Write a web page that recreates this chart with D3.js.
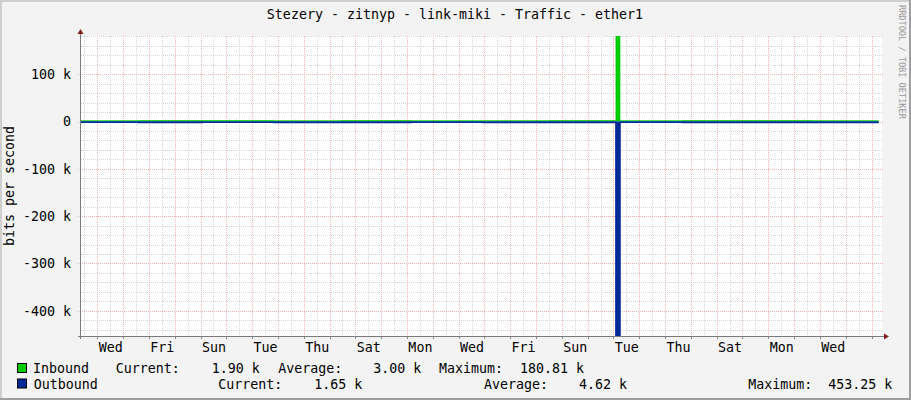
<!DOCTYPE html>
<html>
<head>
<meta charset="utf-8">
<script src="https://cdn.jsdelivr.net/npm/d3@7"></script>
<style>
  body { margin: 0; background: #f3f3f3; }
  text { font-family: "DejaVu Sans Mono", monospace; }
</style>
</head>
<body>
<div id="graph"></div>
<script>
// Data (bits per second, sample times in UTC)
var sampleTimes = [
  "2021-06-01T08:50Z", "2021-06-03T14:00Z", "2021-06-06T02:00Z", "2021-06-08T20:00Z",
  "2021-06-11T10:00Z", "2021-06-14T04:00Z", "2021-06-16T22:00Z", "2021-06-19T12:00Z",
  "2021-06-22T02:20Z", "2021-06-22T06:05Z", "2021-06-24T16:00Z", "2021-06-27T06:00Z",
  "2021-06-29T18:00Z", "2021-07-02T06:40Z"
];
var inboundBits = [1850, 2050, 1960, 1780, 2120, 1890, 1940, 2010, 180810, 1870, 1990, 2080, 1900, 1900];
var outboundBits = [1620, 1710, 1580, 1690, 1750, 1600, 1640, 1720, 453250, 1590, 1680, 1700, 1650, 1650];

var seriesNames = ["Inbound", "Outbound"];
var averageLabels = ["3.00 k", "4.62 k"];
var yTickValues = [100000, 0, -100000, -200000, -300000, -400000];

var graphTitle = "Stezery - zitnyp - link-miki - Traffic - ether1";
var yTitle = "bits per second";
var watermark = "RRDTOOL / TOBI OETIKER";

// Chart setup
var svgWidth = 911;
var svgHeight = 400;
var plot = { left: 81, right: 881, top: 36, bottom: 336 };

var inColor = "#00cc00";
var outColor = "#002a97";
var gridMinor = "#d6d6d6";
var gridMajor = "#f4b0b0";

var svg = d3.select("#graph")
    .append("svg")
    .attr("width", svgWidth)
    .attr("height", svgHeight);

// background + shaded frame
svg.append("rect").attr("width", svgWidth).attr("height", svgHeight).attr("fill", "#f3f3f3");
svg.append("path").attr("d", "M0,0H911V2H2V400H0Z").attr("fill", "#cfcfcf");
svg.append("path").attr("d", "M911,0V400H0V398H909V0Z").attr("fill", "#9e9e9e");

var data = sampleTimes.map(function(t, i) {
    return { time: new Date(t), inb: inboundBits[i], outb: outboundBits[i] };
});

// Scales
var start = new Date("2021-06-01T08:50Z");
var end = new Date("2021-07-02T08:50Z");
var xScale = d3.scaleUtc()
    .domain([start, end])
    .range([plot.left, plot.right]);

var yScale = d3.scaleLinear()
    .domain([-453250, 180810])
    .range([plot.bottom, plot.top]);

// canvas
svg.append("rect")
    .attr("x", plot.left)
    .attr("y", plot.top)
    .attr("width", plot.right - plot.left + 1)
    .attr("height", plot.bottom - plot.top)
    .attr("fill", "#ffffff");

var grid = svg.append("g").attr("stroke-dasharray", "1,1").attr("stroke-width", 1);

// minor vertical grid every 12 hours, major every midnight
var halfDays = d3.utcHour.every(12).range(start, end).filter(function(d) { return d.getUTCHours() === 12; });
var days = d3.utcDay.range(start, end);

grid.selectAll(".vminor")
    .data(halfDays)
    .enter()
    .append("line")
    .attr("x1", d => Math.round(xScale(d)) + 0.5)
    .attr("x2", d => Math.round(xScale(d)) + 0.5)
    .attr("y1", plot.top)
    .attr("y2", plot.bottom)
    .attr("stroke", gridMinor);

// horizontal minor grid every 20 k
var yMinor = d3.range(-440000, 180001, 20000).filter(function(v) { return v % 100000 !== 0; });
grid.selectAll(".hminor")
    .data(yMinor)
    .enter()
    .append("line")
    .attr("x1", plot.left)
    .attr("x2", plot.right + 1)
    .attr("y1", d => Math.round(yScale(d)) + 0.5)
    .attr("y2", d => Math.round(yScale(d)) + 0.5)
    .attr("stroke", gridMinor);

grid.selectAll(".vmajor")
    .data(days)
    .enter()
    .append("line")
    .attr("x1", d => Math.round(xScale(d)) + 0.5)
    .attr("x2", d => Math.round(xScale(d)) + 0.5)
    .attr("y1", plot.top)
    .attr("y2", plot.bottom)
    .attr("stroke", gridMajor);

grid.selectAll(".hmajor")
    .data(yTickValues)
    .enter()
    .append("line")
    .attr("x1", plot.left - 3)
    .attr("x2", plot.right + 2)
    .attr("y1", d => Math.round(yScale(d)) + 0.5)
    .attr("y2", d => Math.round(yScale(d)) + 0.5)
    .attr("stroke", gridMajor);

// ticks under the x axis at each midnight
svg.selectAll(".xtick")
    .data(days)
    .enter()
    .append("line")
    .attr("x1", d => Math.round(xScale(d)) + 0.5)
    .attr("x2", d => Math.round(xScale(d)) + 0.5)
    .attr("y1", plot.bottom)
    .attr("y2", plot.bottom + 3)
    .attr("stroke", "#8a8a8a");

// Traffic areas
svg.append("clipPath").attr("id", "clip")
    .append("rect")
    .attr("x", plot.left)
    .attr("y", plot.top)
    .attr("width", plot.right - plot.left + 1)
    .attr("height", plot.bottom - plot.top);

var chartGroup = svg.append("g").attr("clip-path", "url(#clip)");

var inArea = d3.area()
    .curve(d3.curveStepAfter)
    .x(d => xScale(d.time))
    .y0(yScale(0))
    .y1(d => yScale(d.inb));

var outArea = d3.area()
    .curve(d3.curveStepAfter)
    .x(d => xScale(d.time))
    .y0(yScale(0))
    .y1(d => yScale(-d.outb));

// outline of each value edge so the near-zero traffic stays visible
var inLine = d3.line()
    .curve(d3.curveStepAfter)
    .x(d => xScale(d.time))
    .y(d => yScale(d.inb));

var outLine = d3.line()
    .curve(d3.curveStepAfter)
    .x(d => xScale(d.time))
    .y(d => yScale(-d.outb));

chartGroup.append("path").datum(data).attr("d", inArea).attr("fill", inColor);
chartGroup.append("path").datum(data).attr("d", inLine)
    .attr("fill", "none").attr("stroke", inColor).attr("stroke-width", 0.7);
chartGroup.append("path").datum(data).attr("d", outArea).attr("fill", outColor);
chartGroup.append("path").datum(data).attr("d", outLine)
    .attr("fill", "none").attr("stroke", outColor).attr("stroke-width", 1.6);

// Axes lines and arrows
svg.append("line")
    .attr("x1", plot.left - 0.5).attr("x2", plot.left - 0.5)
    .attr("y1", plot.bottom + 3).attr("y2", plot.top - 3)
    .attr("stroke", "#7a7a7a");
svg.append("line")
    .attr("x1", plot.left - 3).attr("x2", plot.right + 4)
    .attr("y1", plot.bottom + 0.5).attr("y2", plot.bottom + 0.5)
    .attr("stroke", "#7a7a7a");
svg.append("path")
    .attr("d", `M${plot.left - 0.5},${plot.top - 7}L${plot.left - 3.5},${plot.top - 2}L${plot.left + 2.5},${plot.top - 2}Z`)
    .attr("fill", "#7f1f1f");
svg.append("path")
    .attr("d", `M${plot.right + 8},${plot.bottom + 0.5}L${plot.right + 3},${plot.bottom - 2.5}L${plot.right + 3},${plot.bottom + 3.5}Z`)
    .attr("fill", "#7f1f1f");

// Axis labels via d3 axes (day names at noon, every other day)
var labelDays = days.filter(function(d, i) { return i % 2 === 0; })
    .map(function(d) { return d3.utcHour.offset(d, 12); })
    .filter(function(d) { return d < end; });

var bottomAxis = d3.axisBottom(xScale)
    .tickValues(labelDays)
    .tickFormat(d3.utcFormat("%a"))
    .tickSize(0)
    .tickPadding(6.5);

var leftAxis = d3.axisLeft(yScale)
    .tickValues(yTickValues)
    .tickFormat(function(v) { return v === 0 ? "0" : (v / 1000) + " k"; })
    .tickSize(0)
    .tickPadding(10);

var xAxisG = svg.append("g")
    .attr("transform", `translate(0, ${plot.bottom})`)
    .call(bottomAxis);
var yAxisG = svg.append("g")
    .attr("transform", `translate(${plot.left}, 0)`)
    .call(leftAxis);

[xAxisG, yAxisG].forEach(function(g) {
    g.attr("font-family", "DejaVu Sans Mono").attr("font-size", 13.3);
    g.select(".domain").remove();
    g.selectAll("text").attr("fill", "#000");
});

// Titles
svg.append("text")
    .attr("x", 455)
    .attr("y", 19.3)
    .attr("text-anchor", "middle")
    .style("font-size", "13.3px")
    .text(graphTitle);

svg.append("text")
    .attr("transform", "translate(14, 186) rotate(-90)")
    .attr("text-anchor", "middle")
    .style("font-size", "13.3px")
    .text(yTitle);

svg.append("text")
    .attr("transform", "translate(899, 5) rotate(90)")
    .attr("text-anchor", "start")
    .style("font-size", "8.6px")
    .attr("fill", "#9a9a9a")
    .text(watermark);

// Legend
var fmtK = function(v) { return (v / 1000).toFixed(2) + " k"; };
var series = [inboundBits, outboundBits];
var legendRows = [
    { base: 373.3, box: 363.5, cols: [33, 115.7, 211.7, 278.3, 373.3, 439, 520] },
    { base: 389, box: 379, cols: [33.7, 218.3, 314.3, 484, 579, 748.3, 828.3] }
];

legendRows.forEach(function(row, i) {
    var vals = series[i];
    var texts = [
        seriesNames[i],
        "Current:", fmtK(vals[vals.length - 1]),
        "Average:", averageLabels[i],
        "Maximum:", fmtK(d3.max(vals))
    ];
    svg.append("rect")
        .attr("x", 17.5).attr("y", row.box)
        .attr("width", 9).attr("height", 9)
        .attr("fill", i === 0 ? inColor : outColor)
        .attr("stroke", "#000");
    svg.selectAll(null)
        .data(texts)
        .enter()
        .append("text")
        .attr("x", (d, j) => row.cols[j])
        .attr("y", row.base)
        .style("font-size", "13.3px")
        .text(d => d);
});
</script>
</body>
</html>
